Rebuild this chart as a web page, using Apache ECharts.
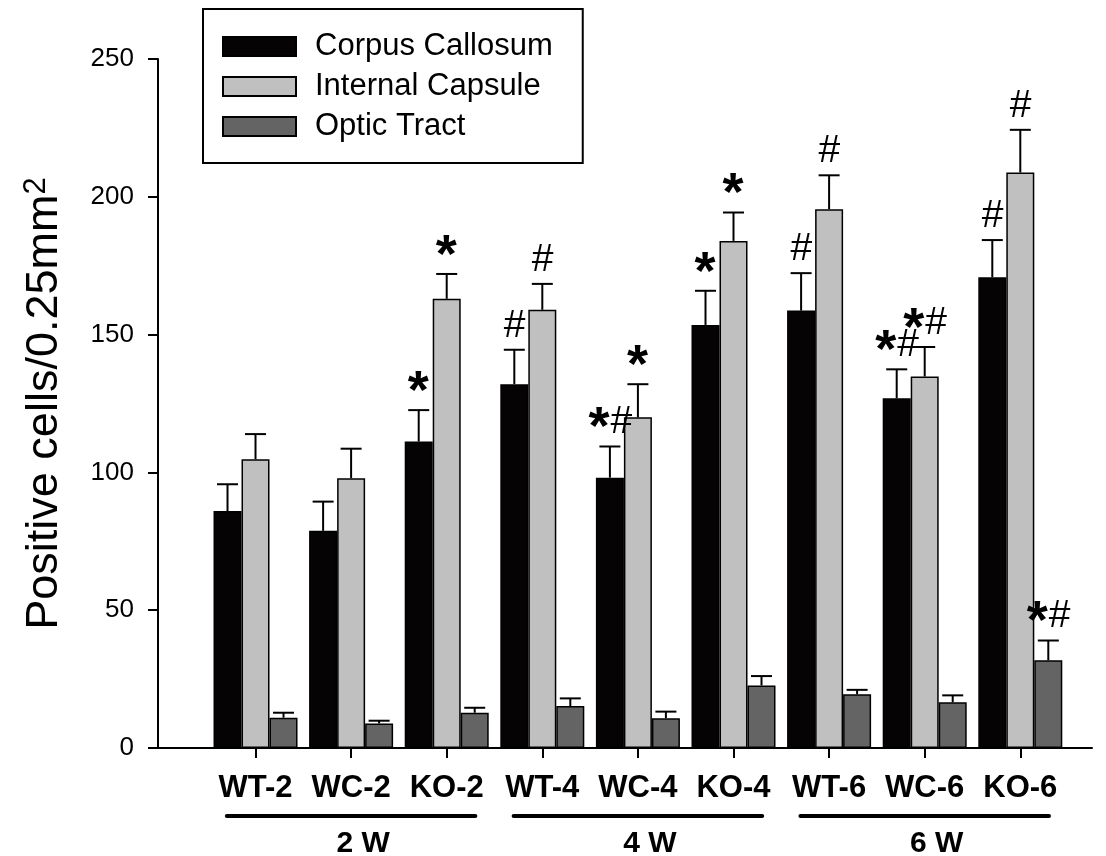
<!DOCTYPE html>
<html>
<head>
<meta charset="utf-8">
<title>Positive cells</title>
<script src="https://cdn.jsdelivr.net/npm/echarts@6/dist/echarts.min.js"></script>
<style>
html, body { margin: 0; padding: 0; background: #fff; }
#chart { width: 1106px; height: 856px; }
</style>
</head>
<body>
<div id="chart"></div>
<script>
// values
const categories = ['WT-2', 'WC-2', 'KO-2', 'WT-4', 'WC-4', 'KO-4', 'WT-6', 'WC-6', 'KO-6'];
const corpus = [86, 78.8, 111.2, 132, 98.1, 153.5, 158.7, 126.9, 170.8];
const corpusErr = [9.7, 10.6, 11.4, 12.5, 11.3, 12.4, 13.6, 10.5, 13.5];
const capsule = [104.8, 97.9, 163, 159, 120, 184, 195.5, 134.8, 208.8];
const capsuleErr = [9.1, 10.7, 9, 9.4, 12, 10.3, 12.3, 10.7, 15.5];
const optic = [11, 8.9, 12.8, 15.2, 10.8, 22.7, 19.5, 16.6, 31.8];
const opticErr = [1.8, 1, 1.8, 2.8, 2.4, 3.4, 1.6, 2.5, 7.2];
const corpusMarks = ['', '', '*', '#', '*#', '*', '#', '*#', '#'];
const capsuleMarks = ['', '', '*', '#', '*', '*', '#', '*#', '#'];
const opticMarks = ['', '', '', '', '', '', '', '', '*#'];
const groupNames = ['2 W', '4 W', '6 W'];
const groupSpans = [[0, 2], [3, 5], [6, 8]];
const yTicks = [0, 50, 100, 150, 200, 250];

const FONT = '"Liberation Sans", Arial, sans-serif';
const BAR_W = 28;

function pairs(vals, errs) {
	return vals.map(function (v, i) { return errs ? [i, v, errs[i]] : [i, v]; });
}

function errorRender(slot, marks) {
	return function (params, api) {
		const i = api.value(0);
		const v = api.value(1);
		const e = api.value(2);
		const base = api.coord([i, v]);
		const top = api.coord([i, v + e]);
		const x = base[0] + (slot - 1) * BAR_W;
		const children = [
			{ type: 'line', shape: { x1: x, y1: base[1], x2: x, y2: top[1] }, style: { stroke: '#000', lineWidth: 2 } },
			{ type: 'line', shape: { x1: x - 10.5, y1: top[1], x2: x + 10.5, y2: top[1] }, style: { stroke: '#000', lineWidth: 2 } }
		];
		const m = marks[params.dataIndex];
		if (m) {
			const widths = m.split('').map(function (c) { return c === '*' ? 22 : 21; });
			let cx = x - widths.reduce(function (a, b) { return a + b; }, 0) / 2;
			m.split('').forEach(function (c, k) {
				const star = c === '*';
				children.push({
					type: 'text',
					x: cx,
					y: top[1] - 24 + (star ? 7 : 0),
					style: {
						text: c,
						fill: '#000',
						font: (star ? 'bold 54px ' : '39px ') + FONT,
						align: 'left',
						verticalAlign: 'middle'
					}
				});
				cx += widths[k];
			});
		}
		return { type: 'group', children: children };
	};
}

function groupRender(params, api) {
	const span = groupSpans[params.dataIndex];
	const p1 = api.coord([span[0] - 0.3, 0]);
	const p2 = api.coord([span[1] + 0.3, 0]);
	const y = p1[1] + 68;
	return {
		type: 'group',
		children: [
			{ type: 'line', shape: { x1: p1[0], y1: y, x2: p2[0], y2: y }, style: { stroke: '#000', lineWidth: 4, lineCap: 'round' } },
			{
				type: 'text', x: (p1[0] + p2[0]) / 2 + 12, y: y + 28,
				style: { text: groupNames[params.dataIndex], fill: '#000', font: 'bold 30px ' + FONT, align: 'center', verticalAlign: 'middle' }
			}
		]
	};
}

const barStyle = function (color) {
	return { color: color, borderColor: '#000', borderWidth: 1.5 };
};

const myChart = echarts.init(document.getElementById('chart'));
const option = {
	animation: false,
	backgroundColor: '#fff',
	textStyle: { fontFamily: FONT },
	legend: {
		orient: 'vertical',
		left: 203,
		top: 9,
		padding: [22, 30, 21, 19],
		itemWidth: 73,
		itemHeight: 19,
		itemGap: 9,
		icon: 'rect',
		borderColor: '#000',
		borderWidth: 2,
		textStyle: { fontSize: 31, color: '#000', fontFamily: FONT, padding: [0, 0, 0, 14] },
		data: ['Corpus Callosum', 'Internal Capsule', 'Optic Tract']
	},
	grid: { left: 158, right: 14, top: 59, bottom: 108, containLabel: false },
	xAxis: {
		type: 'value',
		min: -1.02,
		max: 8.75,
		splitLine: { show: false },
		axisLine: { onZero: false, lineStyle: { color: '#000', width: 2 } },
		axisTick: { customValues: categories.map(function (c, i) { return i; }), length: 10, lineStyle: { color: '#000', width: 2 } },
		axisLabel: {
			customValues: categories.map(function (c, i) { return i; }),
			formatter: function (v) { return categories[Math.round(v)] || ''; },
			margin: 25,
			fontSize: 31,
			fontWeight: 'bold',
			color: '#000',
			fontFamily: FONT
		}
	},
	yAxis: {
		type: 'value',
		min: 0,
		max: 250,
		interval: 50,
		name: 'Positive cells/0.25mm{sup|2}',
		nameLocation: 'middle',
		nameGap: 89,
		nameTextStyle: {
			fontSize: 45,
			color: '#000',
			fontFamily: FONT,
			rich: { sup: { fontSize: 31, color: '#000', fontFamily: FONT, verticalAlign: 'bottom', padding: [0, 0, 17, 0] } }
		},
		splitLine: { show: false },
		axisLine: { show: true, onZero: false, lineStyle: { color: '#000', width: 2 } },
		axisTick: { show: true, length: 10, lineStyle: { color: '#000', width: 2 } },
		axisLabel: {
			margin: 24,
			fontSize: 26,
			color: '#000',
			fontFamily: FONT,
			formatter: function (v) { return yTicks.indexOf(v) >= 0 ? String(v) : ''; }
		}
	},
	series: [
		{ name: 'Corpus Callosum', type: 'bar', barWidth: BAR_W, barGap: '0%', itemStyle: barStyle('#050304'), data: pairs(corpus) },
		{ name: 'Internal Capsule', type: 'bar', barWidth: BAR_W, barGap: '0%', itemStyle: barStyle('#c0c0c0'), data: pairs(capsule) },
		{ name: 'Optic Tract', type: 'bar', barWidth: BAR_W, barGap: '0%', itemStyle: barStyle('#646464'), data: pairs(optic) },
		{ type: 'custom', renderItem: errorRender(0, corpusMarks), encode: { x: 0, y: 1 }, data: pairs(corpus, corpusErr), z: 5 },
		{ type: 'custom', renderItem: errorRender(1, capsuleMarks), encode: { x: 0, y: 1 }, data: pairs(capsule, capsuleErr), z: 5 },
		{ type: 'custom', renderItem: errorRender(2, opticMarks), encode: { x: 0, y: 1 }, data: pairs(optic, opticErr), z: 5 },
		{ type: 'custom', renderItem: groupRender, clip: false, encode: { x: 0, y: 1 }, data: groupSpans.map(function (s) { return [s[0], 0]; }), z: 5 }
	]
};
myChart.setOption(option);
</script>
</body>
</html>
